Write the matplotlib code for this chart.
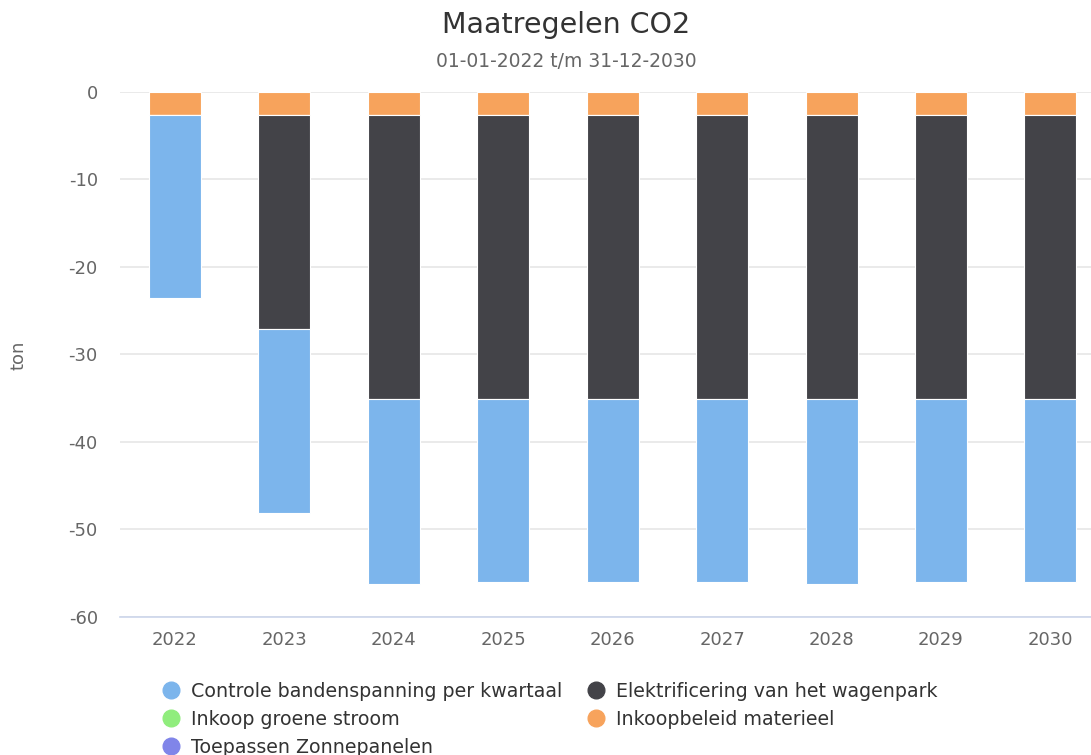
import numpy as np
import matplotlib.pyplot as plt
from matplotlib.lines import Line2D

plt.rcParams['font.family'] = 'DejaVu Sans'
plt.rcParams['axes.unicode_minus'] = False

# data (ton CO2, negative = reduction)
years = ['2022', '2023', '2024', '2025', '2026', '2027', '2028', '2029', '2030']
controle = [-20.9, -21.0, -21.1, -20.9, -20.9, -20.9, -21.1, -20.9, -20.9]
elektrificering = [0.0, -24.5, -32.5, -32.5, -32.5, -32.5, -32.5, -32.5, -32.5]
groene_stroom = [0.0] * 9
materieel = [-2.6] * 9
zonnepanelen = [0.0] * 9

series = [
    ('Controle bandenspanning per kwartaal', controle, '#7cb5ec'),
    ('Elektrificering van het wagenpark', elektrificering, '#434348'),
    ('Inkoop groene stroom', groene_stroom, '#90ed7d'),
    ('Inkoopbeleid materieel', materieel, '#f7a35c'),
    ('Toepassen Zonnepanelen', zonnepanelen, '#8085e9'),
]

fig = plt.figure(figsize=(10.91, 7.55), dpi=100)
ax = fig.add_axes([0.110, 0.1828, 0.903, 0.6954])

x = np.arange(len(years))
bottom = np.zeros(len(years))
# last series sits closest to zero, like the original stacking
for name, vals, color in reversed(series):
    vals = np.array(vals)
    ax.bar(x, vals, bottom=bottom, width=0.475, color=color,
           edgecolor='white', linewidth=0.8, zorder=3)
    bottom = bottom + vals

ax.set_xlim(-0.5, len(years) - 0.5)
ax.set_ylim(-60, 0)
ax.set_yticks([0, -10, -20, -30, -40, -50, -60])
ax.set_xticks(x)
ax.set_xticklabels(years)
ax.tick_params(axis='both', length=0, labelsize=13, colors='#666666')
ax.tick_params(axis='x', pad=10)
ax.tick_params(axis='y', pad=16)
ax.grid(axis='y', color='#e6e6e6', linewidth=1.2, zorder=0)
for side in ['top', 'right', 'left']:
    ax.spines[side].set_visible(False)
ax.spines['bottom'].set_color('#ccd6eb')
ax.spines['bottom'].set_linewidth(1.2)
ax.spines['bottom'].set_zorder(4)

fig.text(0.0165, 0.530, 'ton', rotation=90, ha='center', va='center',
         fontsize=13, color='#666666')
fig.text(0.519, 0.967, 'Maatregelen CO2', ha='center', va='center',
         fontsize=20.5, color='#333333')
fig.text(0.519, 0.919, '01-01-2022 t/m 31-12-2030', ha='center', va='center',
         fontsize=13.5, color='#666666')

# legend, filled column-wise so it reads row-wise like the original
order = [0, 2, 4, 1, 3]
handles = [Line2D([], [], marker='o', linestyle='', markersize=12,
                  markerfacecolor=series[i][2], markeredgecolor=series[i][2])
           for i in order]
labels = [series[i][0] for i in order]
fig.legend(handles, labels, loc='upper left', bbox_to_anchor=(0.148, 0.097),
           ncol=2, frameon=False, fontsize=13.7, labelcolor='#333333',
           handlelength=1.0, handletextpad=0.55, columnspacing=1.3,
           labelspacing=0.47, borderpad=0, borderaxespad=0)

fig.savefig('out.png', dpi=100)
